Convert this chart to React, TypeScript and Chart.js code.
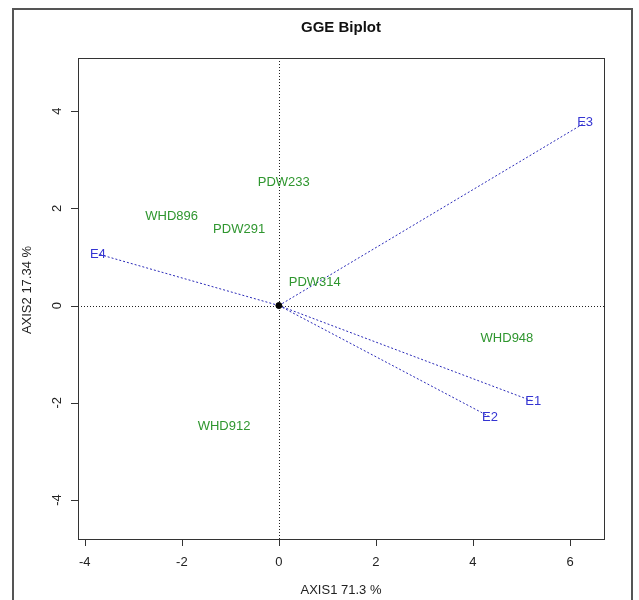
import React, { useEffect, useRef } from "react";
import { Chart, registerables } from "chart.js";

Chart.register(...registerables);

const envNames = ["E1", "E2", "E3", "E4"];
const envX = [5.24, 4.35, 6.31, -3.73];
const envY = [-1.97, -2.29, 3.76, 1.06];

const genNames = ["PDW233", "WHD896", "PDW291", "PDW314", "WHD948", "WHD912"];
const genX = [0.1, -2.21, -0.82, 0.74, 4.7, -1.13];
const genY = [2.54, 1.84, 1.57, 0.48, -0.67, -2.48];

const xTicks = [-4, -2, 0, 2, 4, 6];
const yTicks = [-4, -2, 0, 2, 4];

const titleText = "GGE Biplot";
const xTitle = "AXIS1 71.3 %";
const yTitle = "AXIS2 17.34 %";

const FONT = '"Liberation Sans", Arial, sans-serif';
const BLUE = "#3434d2";
const LINE_BLUE = "#2a2ab8";
const GREEN = "#2f962f";

const biplotPlugin = {
  id: "biplot",
  beforeDatasetsDraw(chart: any) {
    const { ctx, chartArea, scales } = chart;
    const x0 = scales.x.getPixelForValue(0);
    const y0 = scales.y.getPixelForValue(0);
    ctx.save();
    ctx.strokeStyle = "#222";
    ctx.lineWidth = 1;
    ctx.setLineDash([1, 2]);
    ctx.beginPath();
    ctx.moveTo(Math.round(x0) + 0.5, chartArea.top);
    ctx.lineTo(Math.round(x0) + 0.5, chartArea.bottom);
    ctx.moveTo(chartArea.left, Math.round(y0) + 0.5);
    ctx.lineTo(chartArea.right, Math.round(y0) + 0.5);
    ctx.stroke();
    ctx.restore();
  },
  afterDatasetsDraw(chart: any) {
    const { ctx, chartArea, scales } = chart;
    ctx.save();
    // labels
    ctx.font = `13px ${FONT}`;
    ctx.textAlign = "center";
    ctx.textBaseline = "middle";
    const genMeta = chart.getDatasetMeta(0);
    ctx.fillStyle = GREEN;
    genMeta.data.forEach((el: any, i: number) => {
      ctx.fillText(genNames[i], el.x, el.y);
    });
    ctx.fillStyle = BLUE;
    envNames.forEach((name, i) => {
      const meta = chart.getDatasetMeta(2 + i);
      const el = meta.data[1];
      ctx.fillText(name, el.x, el.y);
    });

    // box
    ctx.strokeStyle = "#333";
    ctx.lineWidth = 1;
    ctx.setLineDash([]);
    ctx.strokeRect(
      Math.round(chartArea.left) + 0.5,
      Math.round(chartArea.top) + 0.5,
      Math.round(chartArea.right - chartArea.left),
      Math.round(chartArea.bottom - chartArea.top)
    );

    // ticks
    ctx.fillStyle = "#222";
    ctx.font = `13px ${FONT}`;
    ctx.beginPath();
    xTicks.forEach((t) => {
      const px = Math.round(scales.x.getPixelForValue(t)) + 0.5;
      ctx.moveTo(px, chartArea.bottom);
      ctx.lineTo(px, chartArea.bottom + 7);
    });
    yTicks.forEach((t) => {
      const py = Math.round(scales.y.getPixelForValue(t)) + 0.5;
      ctx.moveTo(chartArea.left, py);
      ctx.lineTo(chartArea.left - 7, py);
    });
    ctx.stroke();
    ctx.textAlign = "center";
    ctx.textBaseline = "middle";
    xTicks.forEach((t) => {
      const px = scales.x.getPixelForValue(t);
      ctx.fillText(String(t), px, chartArea.bottom + 23);
    });
    yTicks.forEach((t) => {
      const py = scales.y.getPixelForValue(t);
      ctx.save();
      ctx.translate(chartArea.left - 21, py);
      ctx.rotate(-Math.PI / 2);
      ctx.fillText(String(t), 0, 0);
      ctx.restore();
    });

    // axis titles
    const cx = (chartArea.left + chartArea.right) / 2;
    ctx.fillText(xTitle, cx, 590);
    ctx.save();
    ctx.translate(27, 290);
    ctx.rotate(-Math.PI / 2);
    ctx.fillText(yTitle, 0, 0);
    ctx.restore();

    // title
    ctx.font = `bold 15px ${FONT}`;
    ctx.fillStyle = "#111";
    ctx.fillText(titleText, cx, 28);

    // outer frame
    ctx.strokeStyle = "#555";
    ctx.lineWidth = 2;
    ctx.strokeRect(13, 9, 619, 620);
    ctx.restore();
  },
};

export default function App() {
  const ref = useRef<HTMLCanvasElement | null>(null);
  useEffect(() => {
    if (!ref.current) return;
    const datasets: any[] = [
      {
        label: "Genotypes",
        data: genX.map((x, i) => ({ x, y: genY[i] })),
        pointRadius: 0,
        showLine: false,
      },
      {
        label: "Origin",
        data: [{ x: 0, y: 0 }],
        pointRadius: 3,
        pointBackgroundColor: "#000",
        pointBorderColor: "#000",
        showLine: false,
      },
      ...envNames.map((name, i) => ({
        label: name,
        data: [
          { x: 0, y: 0 },
          { x: envX[i], y: envY[i] },
        ],
        showLine: true,
        borderColor: LINE_BLUE,
        borderWidth: 1,
        borderDash: [2, 2],
        pointRadius: 0,
        fill: false,
      })),
    ];
    const chart = new Chart(ref.current, {
      type: "scatter",
      data: { datasets },
      options: {
        animation: false,
        responsive: false,
        maintainAspectRatio: false,
        layout: { padding: { left: 78, right: 35, top: 58, bottom: 61 } },
        plugins: {
          legend: { display: false },
          title: { display: false },
          tooltip: { enabled: false },
        },
        scales: {
          x: { type: "linear", min: -4.14, max: 6.7, display: false },
          y: { type: "linear", min: -4.8, max: 5.09, display: false },
        },
      },
      plugins: [biplotPlugin],
    });
    return () => chart.destroy();
  }, []);
  return (
    <div style={{ position: "fixed", left: 0, top: 0, width: 639, height: 600, background: "#fff" }}>
      <canvas ref={ref} width={639} height={600} style={{ width: 639, height: 600, display: "block" }} />
    </div>
  );
}
